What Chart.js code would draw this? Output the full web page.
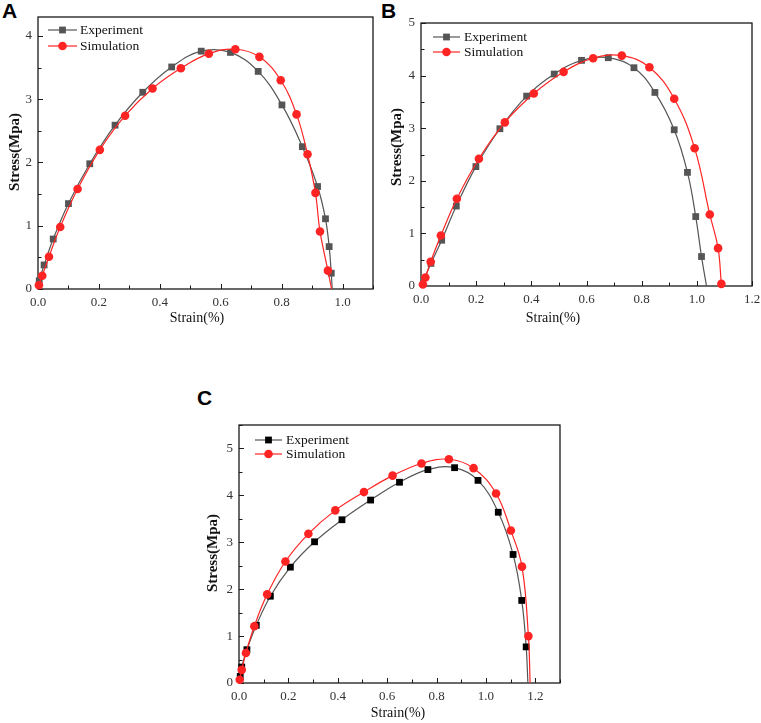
<!DOCTYPE html>
<html>
<head>
<meta charset="utf-8">
<script src="https://cdn.jsdelivr.net/npm/chart.js@4.4.1/dist/chart.umd.min.js"></script>
<style>
  html, body { margin: 0; padding: 0; background: #fff; }
  body { width: 761px; height: 723px; position: relative; overflow: hidden; }
  canvas { position: absolute; }
  .tag { position: absolute; font: bold 21px "Liberation Sans", Arial, sans-serif; line-height: 21px; color: #000; }
</style>
</head>
<body>
<div class="tag" style="left:2px;top:0px">A</div>
<div class="tag" style="left:381px;top:0px">B</div>
<div class="tag" style="left:197px;top:387px">C</div>
<canvas id="chartA" width="380" height="326" style="left:0;top:0"></canvas>
<canvas id="chartB" width="381" height="326" style="left:380px;top:0"></canvas>
<canvas id="chartC" width="390" height="343" style="left:190px;top:380px"></canvas>
<script>
// Panel A
const strainExpA = [0, 0.004, 0.020, 0.050, 0.100, 0.170, 0.253, 0.344, 0.439, 0.536, 0.632, 0.723, 0.801, 0.868, 0.918, 0.944, 0.956, 0.963, 0.966];
const stressExpA = [0, 0.13, 0.38, 0.79, 1.35, 1.98, 2.59, 3.11, 3.51, 3.76, 3.74, 3.44, 2.91, 2.25, 1.62, 1.11, 0.67, 0.25, 0];
const strainSimA = [0, 0.003, 0.014, 0.036, 0.073, 0.130, 0.203, 0.286, 0.376, 0.469, 0.561, 0.648, 0.727, 0.797, 0.849, 0.885, 0.911, 0.926, 0.952, 0.964];
const stressSimA = [0, 0.06, 0.21, 0.51, 0.98, 1.58, 2.20, 2.74, 3.17, 3.49, 3.72, 3.79, 3.67, 3.30, 2.76, 2.13, 1.52, 0.91, 0.29, 0];

// Panel B
const strainExpB = [0, 0.036, 0.075, 0.128, 0.199, 0.286, 0.383, 0.483, 0.582, 0.679, 0.772, 0.848, 0.918, 0.966, 0.996, 1.017, 1.035];
const stressExpB = [0, 0.43, 0.87, 1.52, 2.27, 2.99, 3.61, 4.03, 4.29, 4.34, 4.15, 3.68, 2.97, 2.16, 1.32, 0.56, 0];
const strainSimB = [0, 0.007, 0.016, 0.035, 0.072, 0.130, 0.210, 0.304, 0.409, 0.517, 0.624, 0.728, 0.828, 0.918, 0.992, 1.047, 1.077, 1.089, 1.091];
const stressSimB = [0, 0.03, 0.16, 0.46, 0.96, 1.66, 2.42, 3.11, 3.66, 4.07, 4.33, 4.38, 4.16, 3.56, 2.62, 1.36, 0.72, 0.04, 0];

// Panel C
const strainExpC = [0, 0.005, 0.011, 0.032, 0.070, 0.127, 0.208, 0.306, 0.417, 0.533, 0.650, 0.765, 0.873, 0.968, 1.050, 1.110, 1.145, 1.163, 1.170];
const stressExpC = [0, 0.14, 0.34, 0.71, 1.23, 1.85, 2.47, 3.01, 3.48, 3.90, 4.28, 4.55, 4.59, 4.32, 3.64, 2.74, 1.76, 0.77, 0];
const strainSimC = [0, 0.003, 0.011, 0.028, 0.062, 0.114, 0.188, 0.281, 0.390, 0.506, 0.622, 0.739, 0.850, 0.950, 1.041, 1.101, 1.146, 1.172, 1.179];
const stressSimC = [0, 0.07, 0.28, 0.64, 1.21, 1.89, 2.59, 3.18, 3.68, 4.07, 4.42, 4.68, 4.77, 4.58, 4.04, 3.25, 2.48, 1.00, 0];

// axis ranges [min, max]
const strainRangeA = [0, 1.1], stressRangeA = [0, 4.3];
const strainRangeB = [0, 1.2], stressRangeB = [0, 5];
const strainRangeC = [0, 1.3], stressRangeC = [0, 5.5];

const seriesNames = ['Experiment', 'Simulation'];
const xTitle = 'Strain(%)';
const yTitle = 'Stress(Mpa)';

const serif = '"Liberation Serif", "Times New Roman", serif';
const RED = '#ff2424';

const toPoints = (xs, ys) => xs.map((x, i) => ({ x: x, y: ys[i] }));
// first and last entries are only curve ends, no marker
const markerSize = r => ctx => (ctx.dataIndex === 0 || ctx.dataIndex === ctx.dataset.data.length - 1) ? 0 : r;

// box frame, inward ticks, axis titles and the legend
const framePlugin = {
    id: 'frame',
    beforeDatasetsDraw(chart, args, opts) {
        const { ctx, chartArea: a } = chart;
        const x = chart.scales.x, y = chart.scales.y;
        ctx.save();
        ctx.strokeStyle = '#1a1a1a';
        ctx.lineWidth = 1;
        ctx.beginPath();
        for (let i = 0; i * 0.1 <= x.max + 1e-9; i++) {
            const px = Math.round(x.getPixelForValue(i * 0.1)) + 0.5;
            const len = i % 2 === 0 ? 5 : 3.5;
            ctx.moveTo(px, a.bottom);
            ctx.lineTo(px, a.bottom - len);
        }
        for (let i = 0; i * 0.5 <= y.max + 1e-9; i++) {
            const py = Math.round(y.getPixelForValue(i * 0.5)) + 0.5;
            const len = i % 2 === 0 ? 5 : 3.5;
            ctx.moveTo(a.left, py);
            ctx.lineTo(a.left + len, py);
        }
        ctx.stroke();
        ctx.lineWidth = 1.3;
        ctx.strokeRect(a.left, a.top, a.right - a.left, a.bottom - a.top);

        // axis titles
        ctx.fillStyle = '#111';
        ctx.textAlign = 'center';
        ctx.textBaseline = 'middle';
        ctx.font = '14px ' + serif;
        ctx.fillText(xTitle, opts.xTitle[0], opts.xTitle[1]);
        ctx.save();
        ctx.translate(opts.yTitle[0], opts.yTitle[1]);
        ctx.rotate(-Math.PI / 2);
        ctx.font = 'bold 15px ' + serif;
        ctx.fillText(yTitle, 0, 0);
        ctx.restore();
        ctx.restore();
    },
    afterDatasetsDraw(chart, args, opts) {
        const { ctx, chartArea: a } = chart;
        const lg = opts.legend;
        ctx.save();
        chart.data.datasets.forEach((ds, i) => {
            const y0 = a.top + lg.rows[i];
            const x0 = a.left + lg.x;
            ctx.strokeStyle = ds.borderColor;
            ctx.lineWidth = 1.2;
            ctx.beginPath();
            ctx.moveTo(x0, y0);
            ctx.lineTo(x0 + lg.len, y0);
            ctx.stroke();
            const mx = x0 + lg.len / 2;
            ctx.fillStyle = ds.pointBackgroundColor;
            if (ds.pointStyle === 'rect') {
                ctx.fillRect(mx - 3.4, y0 - 3.4, 6.8, 6.8);
            } else {
                ctx.beginPath();
                ctx.arc(mx, y0, 4.3, 0, Math.PI * 2);
                ctx.fill();
            }
            ctx.fillStyle = '#111';
            ctx.font = '13.5px ' + serif;
            ctx.textAlign = 'left';
            ctx.textBaseline = 'middle';
            ctx.fillText(ds.label, a.left + lg.text, y0 + 0.5);
        });
        ctx.restore();
    }
};

function buildChart(id, exp, sim, cfg) {
    return new Chart(document.getElementById(id), {
        type: 'scatter',
        data: {
            datasets: [{
                label: seriesNames[0],
                data: exp,
                showLine: true,
                tension: 0.4,
                borderColor: '#555555',
                borderWidth: 1.2,
                pointStyle: 'rect',
                pointRadius: markerSize(4.8),
                pointBackgroundColor: cfg.expColor,
                pointBorderColor: cfg.expColor,
                pointBorderWidth: 0,
                clip: false,
                order: 1
            }, {
                label: seriesNames[1],
                data: sim,
                showLine: true,
                tension: 0.4,
                borderColor: RED,
                borderWidth: 1.2,
                pointStyle: 'circle',
                pointRadius: markerSize(4.3),
                pointBackgroundColor: RED,
                pointBorderColor: RED,
                pointBorderWidth: 0,
                clip: false,
                order: 0
            }]
        },
        options: {
            responsive: false,
            animation: false,
            devicePixelRatio: 1,
            events: [],
            layout: { padding: { top: cfg.top, right: cfg.right, left: 0, bottom: 0 } },
            plugins: {
                legend: { display: false },
                tooltip: { enabled: false },
                frame: { xTitle: cfg.xTitle, yTitle: cfg.yTitle, legend: cfg.legend }
            },
            scales: {
                x: {
                    type: 'linear',
                    min: cfg.xRange[0],
                    max: cfg.xRange[1],
                    grid: { display: false, drawTicks: false },
                    border: { display: false },
                    afterFit: s => { s.height = cfg.xh; s.paddingLeft = 0; s.paddingRight = 0; },
                    ticks: {
                        stepSize: 0.2,
                        includeBounds: false,
                        autoSkip: false,
                        maxRotation: 0,
                        padding: 6,
                        color: '#333',
                        font: { family: serif, size: 13 },
                        callback: v => v.toFixed(1)
                    }
                },
                y: {
                    type: 'linear',
                    min: cfg.yRange[0],
                    max: cfg.yRange[1],
                    grid: { display: false, drawTicks: false },
                    border: { display: false },
                    afterFit: s => { s.width = cfg.yw; s.paddingTop = 0; s.paddingBottom = 0; },
                    ticks: {
                        stepSize: 1,
                        includeBounds: false,
                        padding: 6,
                        color: '#333',
                        font: { family: serif, size: 13 },
                        callback: v => String(v)
                    }
                }
            }
        },
        plugins: [framePlugin]
    });
}

buildChart('chartA', toPoints(strainExpA, stressExpA), toPoints(strainSimA, stressSimA), {
    xRange: strainRangeA, yRange: stressRangeA, expColor: '#555555',
    top: 17, right: 7, yw: 38, xh: 37,
    xTitle: [197, 318], yTitle: [15, 152],
    legend: { x: 10, len: 29, text: 42, rows: [13, 29] }
});

buildChart('chartB', toPoints(strainExpB, stressExpB), toPoints(strainSimB, stressSimB), {
    xRange: strainRangeB, yRange: stressRangeB, expColor: '#555555',
    top: 23, right: 9, yw: 41, xh: 40,
    xTitle: [173, 318], yTitle: [17, 147],
    legend: { x: 12, len: 27, text: 43, rows: [14, 29] }
});

buildChart('chartC', toPoints(strainExpC, stressExpC), toPoints(strainSimC, stressSimC), {
    xRange: strainRangeC, yRange: stressRangeC, expColor: '#000000',
    top: 45, right: 20, yw: 49, xh: 40,
    xTitle: [208, 333], yTitle: [23, 173],
    legend: { x: 16, len: 27, text: 47, rows: [15, 29] }
});
</script>
</body>
</html>
